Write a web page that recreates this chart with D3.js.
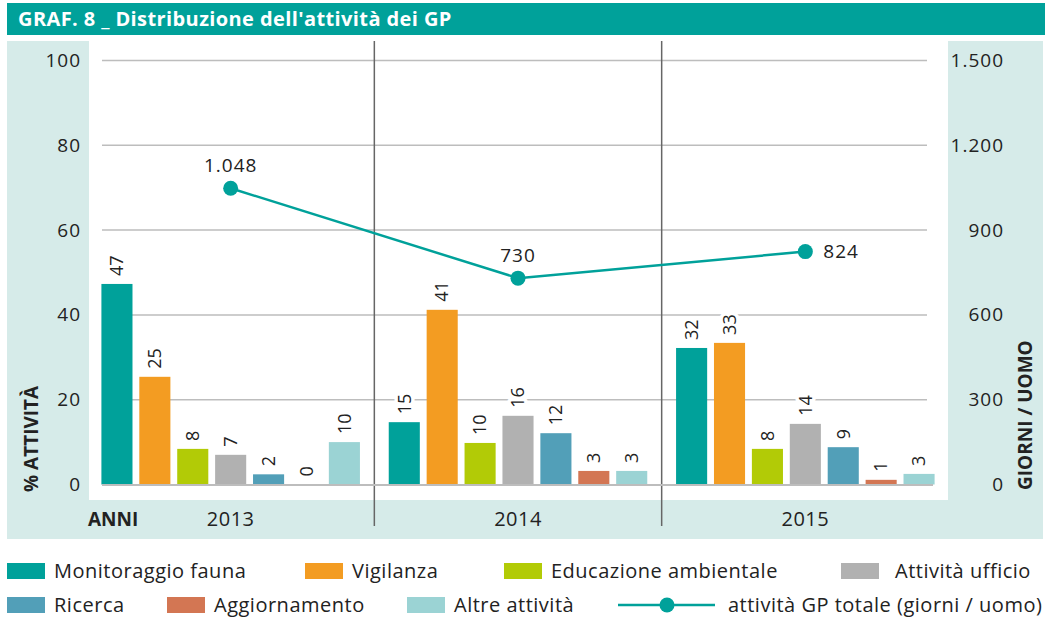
<!DOCTYPE html>
<html>
<head>
<meta charset="utf-8">
<title>GRAF. 8</title>
<style>
  body { margin: 0; background: #fff; }
  svg text { font-family: "Open Sans", sans-serif; fill: #222; }
  .tick text { font-size: 19px; letter-spacing: 1px; }
  .vlab { font-size: 18px; paint-order: stroke; stroke: #fff; stroke-width: 7px; stroke-linejoin: round; }
  .legend text { font-size: 20px; letter-spacing: 0.5px; }
  .num { font-size: 19px; letter-spacing: 1px; }
</style>
</head>
<body>
<svg id="svg" width="1045" height="619"></svg>
<script src="https://cdn.jsdelivr.net/npm/d3@7"></script>
<script>
  // data
  const years = ['2013', '2014', '2015']
  const activities = ['Monitoraggio fauna', 'Vigilanza', 'Educazione ambientale', 'Attività ufficio',
    'Ricerca', 'Aggiornamento', 'Altre attività']
  const colors = ['#00a19a', '#f39c22', '#b2cb06', '#b1b1b1', '#529fb8', '#d37653', '#9bd3d4']
  const share2013 = [47.3, 25.4, 8.4, 7.0, 2.4, 0, 10.0]
  const share2014 = [14.7, 41.2, 9.8, 16.2, 12.1, 3.2, 3.2]
  const share2015 = [32.2, 33.4, 8.4, 14.3, 8.8, 1.1, 2.5]
  const giorniUomo = [1048, 730, 824]
  const leftTicks = [0, 20, 40, 60, 80, 100]
  const rightTicks = [0, 300, 600, 900, 1200, 1500]

  const shares = [share2013, share2014, share2015]
  const it = d3.formatLocale({ decimal: ',', thousands: '.', grouping: [3], currency: ['', '€'] })
  const fmt = it.format(',d')

  const svg = d3.select('#svg')
  const plotTop = 41, plotBottom = 500

  // backgrounds
  svg.append('rect').attr('x', 7).attr('y', 3).attr('width', 1038).attr('height', 32).attr('fill', '#00a19a')
  svg.append('text').attr('x', 18).attr('y', 19).attr('dy', '0.35em')
    .style('font-size', '20px').style('font-weight', 'bold').style('letter-spacing', '0.4px').style('fill', '#fff')
    .text("GRAF. 8 _ Distribuzione dell'attività dei GP")
  svg.append('rect').attr('x', 7).attr('y', plotTop).attr('width', 1036).attr('height', 498).attr('fill', '#d6ebe9')
  svg.append('rect').attr('x', 89).attr('y', plotTop).attr('width', 859).attr('height', plotBottom - plotTop).attr('fill', '#fff')

  // scales
  const x = d3.scaleBand().domain(years).range([87, 949])
  const xi = d3.scaleBand().domain(activities).range([0, x.bandwidth()]).paddingInner(0.18).paddingOuter(0.38)
  const y = d3.scaleLinear().domain([0, 100]).range([484.5, 60.5])
  const y2 = d3.scaleLinear().domain([0, 1500]).range([484.5, 60.5])

  // grid
  svg.append('g').selectAll('line').data(leftTicks.filter(d => d > 0)).join('line')
    .attr('x1', 102).attr('x2', 927).attr('y1', d => y(d)).attr('y2', d => y(d))
    .attr('stroke', '#bdbdbd').attr('stroke-width', 1.5)

  // separators between years
  svg.append('g').selectAll('line').data(years.slice(1)).join('line')
    .attr('x1', d => x(d)).attr('x2', d => x(d)).attr('y1', plotTop).attr('y2', 526)
    .attr('stroke', '#666').attr('stroke-width', 1.5)

  // bars
  const groups = svg.append('g').selectAll('g').data(years).join('g')
    .attr('transform', d => `translate(${x(d)},0)`)
  groups.selectAll('rect')
    .data((d, i) => activities.map((a, j) => ({ a, v: shares[i][j], c: colors[j] })))
    .join('rect')
    .attr('x', d => xi(d.a)).attr('width', xi.bandwidth())
    .attr('y', d => y(d.v)).attr('height', d => y(0) - y(d.v))
    .attr('fill', d => d.c)

  // baseline
  svg.append('line').attr('x1', 102).attr('x2', 933).attr('y1', y(0) + 0.5).attr('y2', y(0) + 0.5)
    .attr('stroke', '#bdbdbd').attr('stroke-width', 2)

  // bar values, rotated
  groups.selectAll('text')
    .data((d, i) => activities.map((a, j) => ({ a, v: shares[i][j] })))
    .join('text')
    .attr('class', 'vlab')
    .attr('transform', d => `translate(${xi(d.a) + xi.bandwidth() / 2},${y(d.v) - 8}) rotate(-90)`)
    .attr('dy', '0.35em')
    .text(d => Math.round(d.v))

  // axes
  const axL = svg.append('g').attr('transform', 'translate(81,0)')
    .call(d3.axisLeft(y).tickValues(leftTicks).tickSize(0).tickPadding(0))
  const axR = svg.append('g').attr('transform', 'translate(1004,0)')
    .call(d3.axisLeft(y2).tickValues(rightTicks).tickSize(0).tickPadding(0).tickFormat(fmt))
  axL.select('.domain').remove()
  axR.select('.domain').remove()
  svg.selectAll('.tick text').style('fill', '#222').style('font-family', '"Open Sans", sans-serif')

  svg.append('text').attr('transform', 'translate(31,492) rotate(-90)').attr('dy', '0.35em')
    .style('font-size', '19px').style('font-weight', 'bold').text('% ATTIVITÀ')
  svg.append('text').attr('transform', 'translate(1025,490) rotate(-90)').attr('dy', '0.35em')
    .style('font-size', '19px').style('font-weight', 'bold').text('GIORNI / UOMO')

  // year labels
  svg.append('g').selectAll('text').data(years).join('text')
    .attr('x', d => x(d) + x.bandwidth() / 2).attr('y', 519).attr('dy', '0.35em')
    .attr('text-anchor', 'middle').style('font-size', '20px').style('letter-spacing', '0.5px').text(d => d)
  svg.append('text').attr('x', 88).attr('y', 519).attr('dy', '0.35em')
    .style('font-size', '19px').style('font-weight', 'bold').text('ANNI')

  // line
  const cx = d => x(d) + x.bandwidth() / 2
  const pts = years.map((d, i) => [cx(d), y2(giorniUomo[i])])
  svg.append('path').attr('d', d3.line()(pts)).attr('fill', 'none')
    .attr('stroke', '#00a19a').attr('stroke-width', 2.5)
  svg.append('g').selectAll('circle').data(pts).join('circle')
    .attr('cx', d => d[0]).attr('cy', d => d[1]).attr('r', 7.5).attr('fill', '#00a19a')
  svg.append('g').selectAll('text').data(giorniUomo).join('text')
    .attr('class', 'num')
    .attr('x', (d, i) => i === 2 ? pts[i][0] + 18 : pts[i][0])
    .attr('y', (d, i) => i === 2 ? pts[i][1] : pts[i][1] - 23)
    .attr('dy', '0.35em')
    .attr('text-anchor', (d, i) => i === 2 ? 'start' : 'middle')
    .text(d => fmt(d))

  // legend
  const legendX = [7, 305, 504, 841, 7, 167, 407]
  const legendRow = [0, 0, 0, 0, 1, 1, 1]
  const legend = svg.append('g').attr('class', 'legend')
  const li = legend.selectAll('g').data(activities).join('g')
    .attr('transform', (d, i) => `translate(${legendX[i]},${571 + legendRow[i] * 34})`)
  li.append('rect').attr('x', 0).attr('y', -8).attr('width', 38).attr('height', 16)
    .attr('fill', (d, i) => colors[i])
  li.append('text').attr('x', (d, i) => i === 3 ? 54 : 47).attr('dy', '0.35em').text(d => d)

  const ll = legend.append('g').attr('transform', 'translate(618,605)')
  ll.append('line').attr('x1', 0).attr('x2', 97).attr('stroke', '#00a19a').attr('stroke-width', 2.5)
  ll.append('circle').attr('cx', 49).attr('r', 7.5).attr('fill', '#00a19a')
  ll.append('text').attr('x', 110).attr('dy', '0.35em').text('attività GP totale (giorni / uomo)')
</script>
</body>
</html>
